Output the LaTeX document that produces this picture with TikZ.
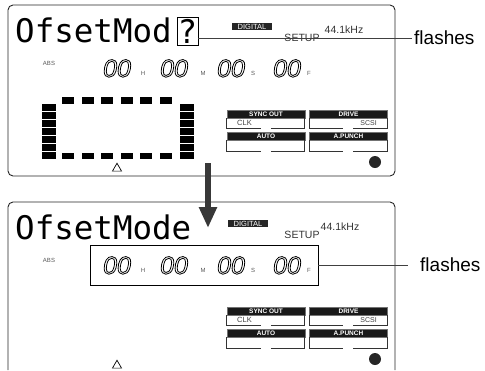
\documentclass[tikz,border=0pt]{standalone}
\usepackage{fontspec}
\setmainfont{Liberation Sans}
\newfontfamily\lcdfont{DejaVu Sans Mono}
\newfontfamily\segfont{Liberation Sans Italic}
\usetikzlibrary{arrows.meta, positioning, shapes.geometric}

\newcommand{\segdigits}[1]{\special{pdf:literal direct 1 Tr 0.8 w}#1\special{pdf:literal direct 0 Tr}}

\begin{document}
\begin{tikzpicture}[
  x=1pt, y=-1pt,
  panel/.style={draw=black!85, line width=0.9pt, rounded corners=5pt},
  lcd/.style={font=\lcdfont\fontsize{32.5}{32.5}\selectfont, inner sep=0pt},
  seg/.style={font=\segfont\fontsize{25}{25}\selectfont, inner sep=0pt, anchor=base},
  tag/.style={font=\fontsize{6}{6}\selectfont, text=black!65, inner sep=0pt},
  badge/.style={fill=black!85, text=white, font=\fontsize{7.5}{7.5}\selectfont, inner sep=0pt, minimum width=40pt, minimum height=7.5pt},
  header/.style={fill=black!90, draw=black!55, line width=0.5pt, text=white, font=\bfseries\fontsize{6.5}{6.5}\selectfont, inner sep=0pt, minimum width=78pt, minimum height=8pt},
  slot/.style={draw=black!80, line width=0.6pt},
  callout/.style={font=\fontsize{19}{19}\selectfont, anchor=west, inner ysep=0pt},
  lead/.style={draw=black!75, line width=0.8pt},
  bar/.style={fill=black},
  bigarrow/.style={draw=black!78, line width=6pt, -{Triangle[width=17pt, length=21pt]}}
]

\useasboundingbox (0,0) rectangle (485,370);

% Panels
\draw[panel] (8,5) rectangle (395,176);
\draw[panel] (8,370) -- (8,202) -- (395,202) -- (395,370);

% Parts shown on both panels
\foreach \p/\dy/\dx in {t/0/0, b/197/-4} {
  \node (badge\p) [badge] at (252+\dx, 26.5+\dy) {DIGITAL};
  \node (rate\p) [font=\fontsize{10.5}{10.5}\selectfont, text=black!80, inner sep=0pt] at (344+\dx, 30+\dy) {44.1kHz};
  \node (setup\p) [font=\fontsize{10.5}{10.5}\selectfont, text=black!80, inner sep=0pt] at (302, 38+\dy) {SETUP};
  \node (abs\p) [tag] at (49, 63+\dy) {ABS};
  \node (hh\p) [seg] at (117, 77+\dy) {\segdigits{00}};
  \node [tag] at (143, 73+\dy) {H};
  \node (mm\p) [seg] at (174, 77+\dy) {\segdigits{00}};
  \node [tag] at (203, 73+\dy) {M};
  \node (ss\p) [seg] at (231, 77+\dy) {\segdigits{00}};
  \node [tag] at (253, 73+\dy) {S};
  \node (ff\p) [seg] at (287, 77+\dy) {\segdigits{00}};
  \node [tag] at (309, 73+\dy) {F};

  \node (sync\p) [header] at (266, 114+\dy) {SYNC OUT};
  \node (drive\p) [header] at (348.5, 114+\dy) {DRIVE};
  \node (auto\p) [header] at (266, 136+\dy) {AUTO};
  \node (punch\p) [header] at (348.5, 136+\dy) {A.PUNCH};
  \draw[slot] (sync\p.south west) -- ++(0,10.5) -- ++(34,0) ++(10,0) -- ++(34,0) -- ++(0,-10.5);
  \draw[slot] (drive\p.south west) -- ++(0,10.5) -- ++(34,0) ++(10,0) -- ++(34,0) -- ++(0,-10.5);
  \draw[slot] (auto\p.south west) -- ++(0,11.5) -- ++(34,0) ++(10,0) -- ++(34,0) -- ++(0,-11.5);
  \draw[slot] (punch\p.south west) -- ++(0,11.5) -- ++(34,0) ++(10,0) -- ++(34,0) -- ++(0,-11.5);
  \node (clk\p) [font=\fontsize{7.5}{7.5}\selectfont, text=black!75, inner sep=0pt, anchor=west] at (237, 123+\dy) {CLK};
  \node (scsi\p) [font=\fontsize{7}{7}\selectfont, text=black!75, inner sep=0pt, anchor=east] at (377, 123+\dy) {SCSI};

  \node (lamp\p) [circle, fill=black!85, minimum size=12pt, inner sep=0pt] at (375, 162+\dy) {};
  \node (mark\p) [regular polygon, regular polygon sides=3, draw, line width=0.7pt, minimum size=10.5pt, inner sep=0pt] at (117, 168.5+\dy) {};
}

% Top panel
\node (msgtop) [lcd, anchor=base west] at (15,42) {OfsetMod};
\node (qbox) [lcd, draw, line width=0.8pt, minimum width=21pt, minimum height=28pt] at (187.5,31) {?};
\node (flashtop) [callout, inner xsep=2pt] at (412,38) {flashes};

% level meter
\foreach \i in {0,...,5} {
  \fill[bar] ({62+19.6*\i},97) rectangle ++(12,6.5);
  \fill[bar] ({62+19.6*\i},152.5) rectangle ++(12,6.5);
}
\foreach \j in {0,...,6} {
  \fill[bar] (42,{104+8*\j}) rectangle ++(14,7);
  \fill[bar] (179.5,{104+8*\j}) rectangle ++(14,7);
}

% Bottom panel
\node (msgbot) [lcd, anchor=base west] at (15,239) {OfsetMode};
\node (frame) [draw, line width=0.8pt, minimum width=228pt, minimum height=40pt] at (204,265) {};
\node (flashbot) [callout, inner xsep=12pt] at (408,265) {flashes};

% Arrows
\coordinate (dropstart) at (208,163);
\coordinate (dropend) at (208,228);
\draw[bigarrow] (dropstart) -- (dropend);
\draw[lead] (qbox.east |- flashtop.west) -- (flashtop.west);
\draw[lead] (frame.east) -- (flashbot.west);

\end{tikzpicture}
\end{document}
